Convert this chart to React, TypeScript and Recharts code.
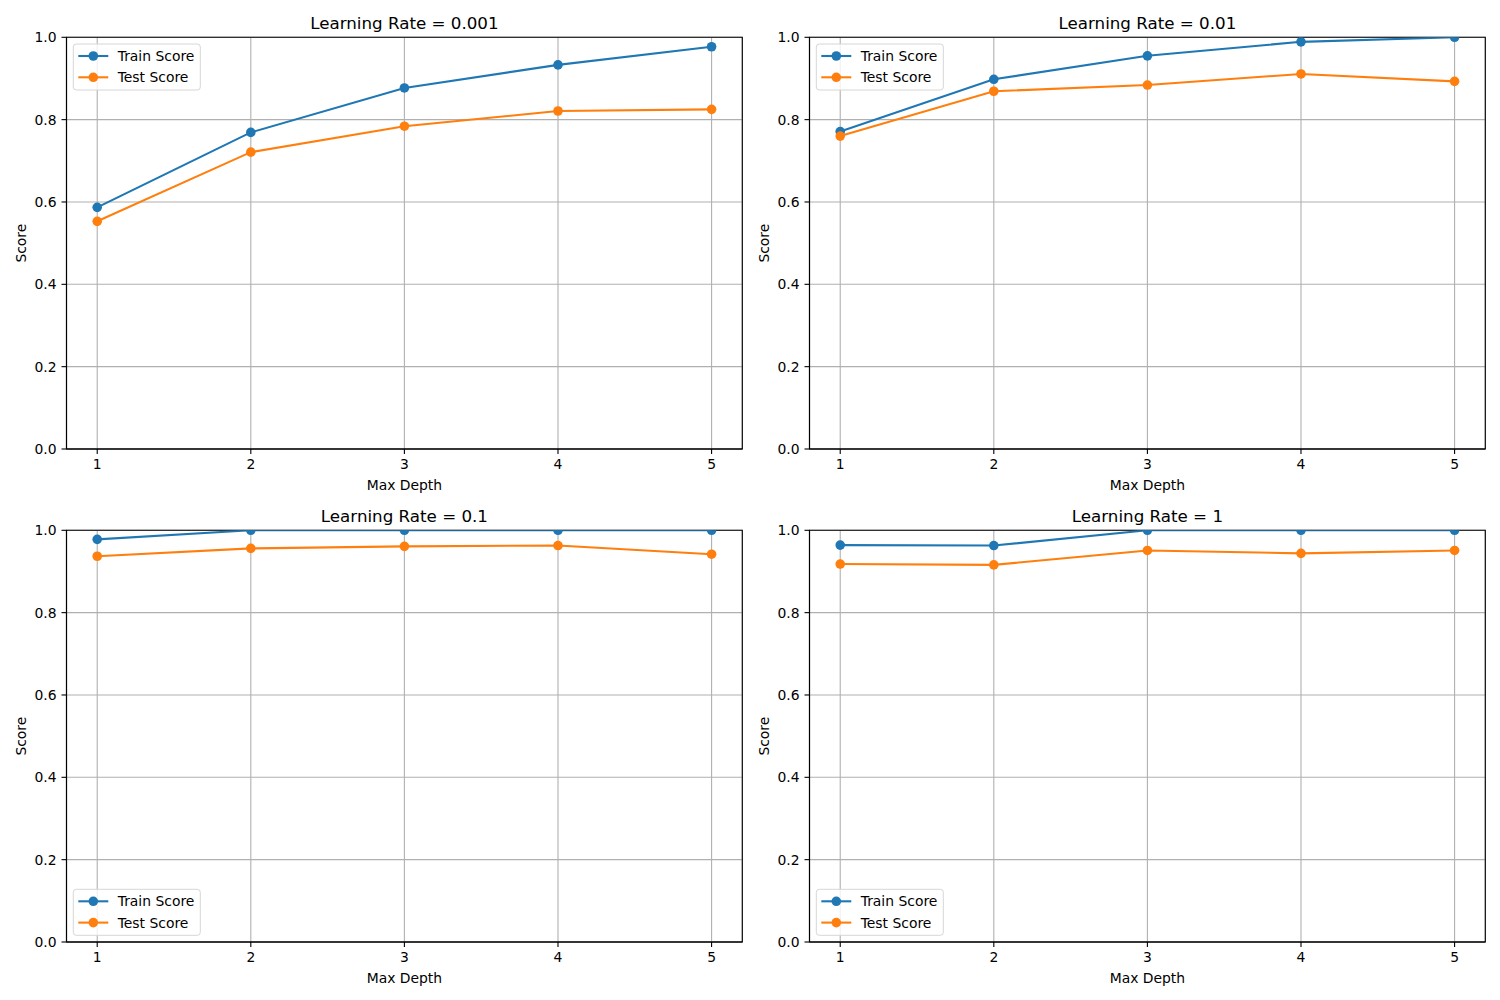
import React from 'react';
import { LineChart, Line, XAxis, YAxis, CartesianGrid, ReferenceArea } from 'recharts';

const depths = [1, 2, 3, 4, 5];
const yTicks = [0, 0.2, 0.4, 0.6, 0.8, 1.0];
const learningRates = ['0.001', '0.01', '0.1', '1'];

const trainLr0001 = [0.587, 0.769, 0.877, 0.933, 0.977];
const testLr0001 = [0.553, 0.721, 0.784, 0.821, 0.825];
const trainLr001 = [0.771, 0.898, 0.955, 0.989, 1.0];
const testLr001 = [0.76, 0.869, 0.884, 0.911, 0.893];
const trainLr01 = [0.978, 1.0, 1.0, 1.0, 1.0];
const testLr01 = [0.937, 0.956, 0.961, 0.963, 0.942];
const trainLr1 = [0.964, 0.963, 1.0, 1.0, 1.0];
const testLr1 = [0.918, 0.916, 0.951, 0.944, 0.951];

const BLUE = '#1f77b4';
const ORANGE = '#ff7f0e';
const FONT = '"DejaVu Sans", Verdana, sans-serif';

const W = 760;
const H = 500;
const PL = 66.5; // plot left inside panel
const PT = 37.3; // plot top inside panel
const PW = 675.8;
const PH = 411.7;
const YW = 50;
const XH = 40;
const DOT_R = 4.8;

type PanelProps = {
  left: number;
  top: number;
  title: string;
  train: number[];
  test: number[];
  legendBottom: boolean;
};

function Panel({ left, top, title, train, test, legendBottom }: PanelProps) {
  const data = depths.map((d, i) => ({ depth: d, train: train[i], test: test[i] }));
  const legY = legendBottom ? PT + PH - 6.7 - 46 : PT + 6.7;
  const legX = PL + 6.8;
  const rows = [
    { name: 'Train Score', color: BLUE },
    { name: 'Test Score', color: ORANGE },
  ];
  return (
    <div style={{ position: 'absolute', left: left - PL, top: top - PT, width: W, height: H }}>
      <LineChart
        width={W}
        height={H}
        data={data}
        margin={{ top: PT, left: PL - YW, right: W - PL - PW, bottom: H - PT - PH - XH }}
      >
        <CartesianGrid stroke="#b0b0b0" strokeWidth={1.1} />
        <XAxis
          dataKey="depth"
          type="number"
          domain={[0.8, 5.2]}
          ticks={depths}
          allowDataOverflow
          height={XH}
          tickSize={5}
          tickMargin={5}
          stroke="#000"
          strokeWidth={1.1}
          tick={{ fill: '#000', fontSize: 13.9 }}
        />
        <YAxis
          type="number"
          domain={[0, 1]}
          ticks={yTicks}
          allowDataOverflow
          width={YW}
          tickSize={5}
          tickMargin={5}
          stroke="#000"
          strokeWidth={1.1}
          tick={{ fill: '#000', fontSize: 13.9 }}
          tickFormatter={(v: number) => v.toFixed(1)}
        />
        <ReferenceArea x1={0.8} x2={5.2} y1={0} y2={1} fill="none" fillOpacity={0} stroke="#000" strokeWidth={1.1} />
        <Line
          dataKey="train"
          stroke={BLUE}
          strokeWidth={2.1}
          dot={{ r: DOT_R, fill: BLUE, stroke: BLUE, strokeWidth: 0 }}
          activeDot={false}
          isAnimationActive={false}
        />
        <Line
          dataKey="test"
          stroke={ORANGE}
          strokeWidth={2.1}
          dot={{ r: DOT_R, fill: ORANGE, stroke: ORANGE, strokeWidth: 0 }}
          activeDot={false}
          isAnimationActive={false}
        />
      </LineChart>
      <svg
        width={W}
        height={H}
        style={{ position: 'absolute', left: 0, top: 0, pointerEvents: 'none', fontFamily: FONT }}
      >
        <text x={PL + PW / 2} y={PT - 8.3} textAnchor="middle" fontSize={16.7} fill="#000">
          {title}
        </text>
        <text x={PL + PW / 2} y={PT + PH + 35.5} textAnchor="middle" dominantBaseline="central" fontSize={13.9} fill="#000">
          Max Depth
        </text>
        <text
          x={21}
          y={PT + PH / 2}
          textAnchor="middle"
          dominantBaseline="central"
          fontSize={13.9}
          fill="#000"
          transform={`rotate(-90 21 ${PT + PH / 2})`}
        >
          Score
        </text>
        <rect x={legX} y={legY} width={127} height={46} rx={3} ry={3} fill="#fff" fillOpacity={0.8} stroke="#d6d6d6" strokeWidth={1} />
        {rows.map((r, i) => {
          const cy = legY + 12 + i * 21.3;
          return (
            <g key={r.name}>
              <line x1={legX + 5} x2={legX + 35} y1={cy} y2={cy} stroke={r.color} strokeWidth={2.1} />
              <circle cx={legX + 20} cy={cy} r={DOT_R} fill={r.color} />
              <text x={legX + 44.4} y={cy} dominantBaseline="central" fontSize={13.9} fill="#000">
                {r.name}
              </text>
            </g>
          );
        })}
      </svg>
    </div>
  );
}

export default function App() {
  return (
    <div
      style={{
        position: 'fixed',
        left: 0,
        top: 0,
        width: 1500,
        height: 1000,
        background: '#fff',
        overflow: 'hidden',
        fontFamily: FONT,
      }}
    >
      <Panel left={66.5} top={37.3} title={`Learning Rate = ${learningRates[0]}`} train={trainLr0001} test={testLr0001} legendBottom={false} />
      <Panel left={809} top={37.3} title={`Learning Rate = ${learningRates[1]}`} train={trainLr001} test={testLr001} legendBottom={false} />
      <Panel left={66.5} top={530.3} title={`Learning Rate = ${learningRates[2]}`} train={trainLr01} test={testLr01} legendBottom={true} />
      <Panel left={809} top={530.3} title={`Learning Rate = ${learningRates[3]}`} train={trainLr1} test={testLr1} legendBottom={true} />
    </div>
  );
}
